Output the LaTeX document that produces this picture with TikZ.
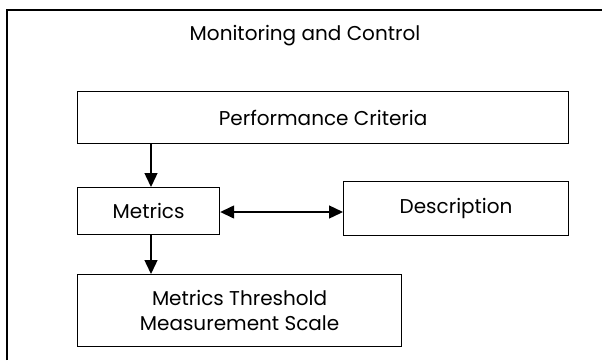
\documentclass[tikz,border=0pt]{standalone}
\usepackage{fontspec}
\setmainfont{Poppins}
\usetikzlibrary{arrows.meta}
\begin{document}
\begin{tikzpicture}[x=1pt,y=-1pt,
  box/.style={draw,line width=1.2pt,inner sep=0pt,anchor=north west},
  lbl/.style={font=\fontsize{20}{25}\selectfont},
  tip/.tip={Triangle[width=13pt,length=14pt]},
  link/.style={line width=1.4pt,-tip},
  both/.style={line width=1.4pt,tip-tip}]
\useasboundingbox (0,0) rectangle (602,360);
% enclosing frame (only its top and left sides fall inside the page)
\draw[line width=1.2pt] (7,360) -- (7,10) -- (602,10);
\node[lbl] (title) at (305,36) {Monitoring and Control};
% boxes
\node[box,minimum width=491pt,minimum height=52pt] (pc) at (77,91) {};
\node[lbl] at (pc.center) {Performance Criteria};
\node[box,minimum width=142pt,minimum height=47pt] (met) at (77,187) {};
\node[lbl] at (met.center) {Metrics};
\node[box,minimum width=225pt,minimum height=54pt] (desc) at (343,181) {};
\node[lbl] at (desc.center) {Description};
\node[box,minimum width=324pt,minimum height=72pt] (thr) at (77,274) {};
\node[lbl,align=center] at (thr.center) {Metrics Threshold\\Measurement Scale};
% connectors
\draw[link] (pc.south west -| 151,0) -- (met.north west -| 151,0);
\draw[link] (met.south west -| 151,0) -- (thr.north west -| 151,0);
\draw[both] (met.east |- 0,212) -- (desc.west |- 0,212);
\end{tikzpicture}
\end{document}
